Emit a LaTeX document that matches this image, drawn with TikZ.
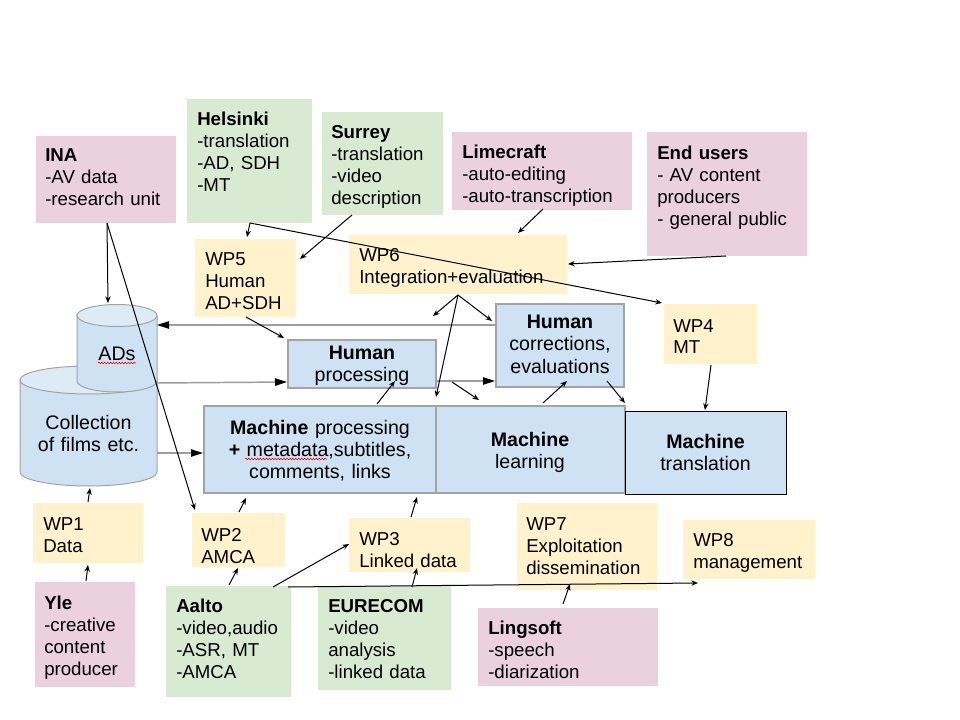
\documentclass[tikz,border=0pt]{standalone}
\usepackage{fontspec}
\setmainfont{Liberation Sans}
\usetikzlibrary{arrows.meta,decorations.pathmorphing}
\definecolor{pinkc}{HTML}{EAD1DC}
\definecolor{greenc}{HTML}{D9EAD3}
\definecolor{yellowc}{HTML}{FFF2CC}
\definecolor{bluec}{HTML}{CFE2F3}
\definecolor{bluetop}{HTML}{DDEBF7}
\definecolor{bordergray}{HTML}{A3A3A3}
\definecolor{linegray}{HTML}{9E9E9E}
\tikzset{
  bx/.style 2 args={anchor=north west, inner sep=0pt, outer sep=0pt, minimum width=#1*0.75pt, minimum height=#2*0.75pt},
  pinkbox/.style={fill=pinkc},
  greenbox/.style={fill=greenc},
  yellowbox/.style={fill=yellowc},
  bluebox/.style={fill=bluec, draw=bordergray, line width=1pt},
  mtbox/.style={fill=bluec, draw=black, line width=0.75pt},
  txt/.style={anchor=base west, inner sep=0pt, text width=220pt, align=left, font=\fontsize{14}{16.5}\selectfont},
  ctxt/.style={anchor=base, inner sep=0pt, text width=220pt, align=center, font=\fontsize{14.7}{16.5}\selectfont},
  arr/.style={draw=black, line width=0.75pt, -{Stealth[length=5pt,width=4pt]}},
  garr/.style={draw=linegray, line width=1.1pt, -{Triangle[length=9pt,width=5.5pt,color=black]}},
  cylbody/.style={draw=bordergray, fill=bluec, line width=0.75pt},
  cyltop/.style={draw=bordergray, fill=bluetop, line width=0.75pt},
  squig/.style={draw=red, line width=0.4pt, decorate, decoration={snake, amplitude=0.6pt, segment length=2.2pt}}
}
\begin{document}
\begin{tikzpicture}[x=0.75pt, y=-0.75pt]
\useasboundingbox (0,0) rectangle (960,720);
\fill[white] (0,0) rectangle (960,720);

% ---- cylinders ----
\path[cylbody] (20,380) -- (20,472) arc[start angle=180, end angle=360, x radius=51.375pt, y radius=10.5pt] -- (157,380) -- cycle;
\path[cyltop] (88.5,380) ellipse [x radius=51.375pt, y radius=10.5pt];
\path[cylbody] (77,315.5) -- (77,381) arc[start angle=180, end angle=360, x radius=30pt, y radius=8.25pt] -- (157,315.5) -- cycle;
\path[cyltop] (117,315.5) ellipse [x radius=30pt, y radius=8.25pt];
\node[ctxt] (ads) at (117,360) {ADs};
\node[ctxt] (coll) at (88.5,429) {Collection\\of films etc.};
\draw[squig] (98,363) -- (136,363);

% ---- boxes ----
\node[bx={140}{87}, pinkbox] (ina) at (36,136) {};
\node[bx={125}{124}, greenbox] (hel) at (187,99) {};
\node[bx={121}{103}, greenbox] (sur) at (322,112) {};
\node[bx={180}{78}, pinkbox] (lime) at (452,132) {};
\node[bx={160}{124}, pinkbox] (endu) at (647,132) {};
\node[bx={101}{78}, yellowbox] (wp5) at (195,239) {};
\node[bx={218}{59}, yellowbox] (wp6) at (349,235) {};
\node[bx={93}{60}, yellowbox] (wp4) at (664,304) {};
\node[bx={148}{48}, bluebox] (hp) at (288,340) {};
\node[bx={128}{83}, bluebox] (hc) at (496,304) {};
\node[bx={232}{87}, bluebox] (mp) at (204,406) {};
\node[bx={189}{87}, bluebox] (ml) at (436,406) {};
\node[bx={161}{83}, mtbox] (mt) at (625,411) {};
\node[bx={110}{60}, yellowbox] (wp1) at (33,503) {};
\node[bx={93}{54}, yellowbox] (wp2) at (192,513) {};
\node[bx={121}{54}, yellowbox] (wp3) at (349,518) {};
\node[bx={140}{87}, yellowbox] (wp7) at (517,503) {};
\node[bx={132}{59}, yellowbox] (wp8) at (683,520) {};
\node[bx={100}{105}, pinkbox] (yle) at (35,582) {};
\node[bx={125}{111}, greenbox] (aalto) at (166,586) {};
\node[bx={133}{104}, greenbox] (eure) at (318,586) {};
\node[bx={180}{78}, pinkbox] (ling) at (478,608) {};

% ---- texts ----
\node[txt] (inat) at (45,162) {\textbf{INA}\\-AV data\\-research unit};
\node[txt] (helt) at (197,126) {\textbf{Helsinki}\\-translation\\-AD, SDH\\-MT};
\node[txt] (surt) at (331,139) {\textbf{Surrey}\\-translation\\-video\\description};
\node[txt] (limet) at (462,159) {\textbf{Limecraft}\\-auto-editing\\-auto-transcription};
\node[txt] (endut) at (657,160) {\textbf{End users}\\- AV content\\producers\\- general public};
\node[txt] (wp5t) at (205,266) {WP5\\Human\\AD+SDH};
\node[txt] (wp6t) at (359,262) {WP6\\Integration+evaluation};
\node[txt] (wp4t) at (673,332) {WP4\\MT};
\node[txt] (wp1t) at (43,530) {WP1\\Data};
\node[txt] (wp2t) at (201,541) {WP2\\AMCA};
\node[txt] (wp3t) at (359,545) {WP3\\Linked data};
\node[txt] (wp7t) at (526,530) {WP7\\Exploitation\\dissemination};
\node[txt] (wp8t) at (693,546) {WP8\\management};
\node[txt] (ylet) at (44,609) {\textbf{Yle}\\-creative\\content\\producer};
\node[txt] (aaltot) at (176,612) {\textbf{Aalto}\\-video,audio\\-ASR, MT\\-AMCA};
\node[txt] (euret) at (328,612) {\textbf{EURECOM}\\-video\\analysis\\-linked data};
\node[txt] (lingt) at (488,634) {\textbf{Lingsoft}\\-speech\\-diarization};
\node[ctxt] (hpt) at (362,359) {\textbf{Human}\\processing};
\node[ctxt] (hct) at (560,329) {\textbf{Human}\\corrections,\\evaluations};
\node[ctxt] (mpt) at (320,434) {\textbf{Machine} processing\\\textbf{+} metadata,subtitles,\\comments, links};
\node[ctxt] (mlt) at (530,446) {\textbf{Machine}\\learning};
\node[ctxt] (mtt) at (705.5,448) {\textbf{Machine}\\translation};
\draw[squig] (245,459) -- (327,459);

% ---- connector end points ----
\coordinate (inaS) at (107,223);
\coordinate (adsT) at (108,303);
\coordinate (wp2TL) at (195,510);
\coordinate (helS) at (250,223);
\coordinate (wp5T) at (247,237);
\coordinate (wp4TL) at (662,303);
\coordinate (surS) at (352,215);
\coordinate (wp5R) at (300,259);
\coordinate (limeS) at (543,209);
\coordinate (wp6T) at (518,233);
\coordinate (enduS) at (726,256);
\coordinate (wp6R) at (568,264);
\coordinate (wp5S) at (246,317);
\coordinate (hpTL) at (284,338);
\coordinate (wp6S) at (458,295);
\coordinate (wp6a) at (433,316);
\coordinate (wp6b) at (492,321);
\coordinate (wp6c) at (436,397);
\coordinate (mpT) at (377,404);
\coordinate (hpB) at (395,381);
\coordinate (hpR) at (452,382);
\coordinate (mlT) at (479,400);
\coordinate (mlT2) at (543,403);
\coordinate (hcB) at (567,381);
\coordinate (hcBR) at (607,381);
\coordinate (mtTL) at (625,403);
\coordinate (wp4S) at (711,365);
\coordinate (mtT) at (705,410);
\coordinate (wp1T) at (88,502);
\coordinate (collB) at (90,488);
\coordinate (yleT) at (86,581);
\coordinate (wp1B) at (88,565);
\coordinate (wp2T) at (239,512);
\coordinate (mpB) at (246,498);
\coordinate (aaltoT) at (229,585);
\coordinate (wp2B) at (238,568);
\coordinate (aaltoTR) at (273,587);
\coordinate (wp3L) at (349,544);
\coordinate (aaltoE) at (288,587);
\coordinate (wp8B) at (698,583);
\coordinate (eureT) at (412,587);
\coordinate (wp3B) at (417,568);
\coordinate (wp3T) at (411,517);
\coordinate (mlB) at (417,497);
\coordinate (lingT) at (563,604);
\coordinate (wp7B) at (570,584);
\coordinate (hcL) at (496,325);
\coordinate (adsR) at (157,325);
\coordinate (adsR2) at (157,383);
\coordinate (hpL) at (287,382);
\coordinate (collR) at (157,453);
\coordinate (mpL) at (203,453);
\coordinate (hpR2) at (436,381);
\coordinate (hcL2) at (495,381);

% ---- gray connectors ----
\draw[garr] (hcL) -- (adsR);
\draw[garr] (adsR2) -- (hpL);
\draw[garr] (collR) -- (mpL);
\draw[garr] (hpR2) -- (hcL2);

% ---- thin connectors ----
\draw[arr] (inaS) -- (adsT);
\draw[arr] (inaS) -- (wp2TL);
\draw[arr] (helS) -- (wp5T);
\draw[arr] (helS) -- (wp4TL);
\draw[arr] (surS) -- (wp5R);
\draw[arr] (limeS) -- (wp6T);
\draw[arr] (enduS) -- (wp6R);
\draw[arr] (wp5S) -- (hpTL);
\draw[arr] (wp6S) -- (wp6a);
\draw[arr] (wp6S) -- (wp6b);
\draw[arr] (wp6S) -- (wp6c);
\draw[arr] (mpT) -- (hpB);
\draw[arr] (hpR) -- (mlT);
\draw[arr] (mlT2) -- (hcB);
\draw[arr] (hcBR) -- (mtTL);
\draw[arr] (wp4S) -- (mtT);
\draw[arr] (wp1T) -- (collB);
\draw[arr] (yleT) -- (wp1B);
\draw[arr] (wp2T) -- (mpB);
\draw[arr] (aaltoT) -- (wp2B);
\draw[arr] (aaltoTR) -- (wp3L);
\draw[arr] (aaltoE) -- (wp8B);
\draw[arr] (eureT) -- (wp3B);
\draw[arr] (wp3T) -- (mlB);
\draw[arr] (lingT) -- (wp7B);
\end{tikzpicture}
\end{document}
